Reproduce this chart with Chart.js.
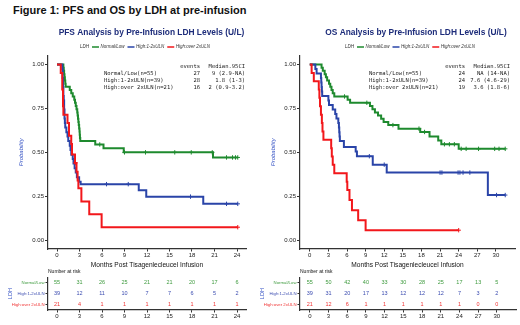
<!DOCTYPE html>
<html>
<head>
<meta charset="utf-8">
<script src="https://cdn.jsdelivr.net/npm/chart.js@4"></script>
<style>
html, body { margin: 0; padding: 0; background: #fff; }
body { width: 520px; height: 325px; position: relative; overflow: hidden; font-family: "Liberation Sans", Arial, sans-serif; }
#figTitle { position: absolute; left: 13px; top: 4px; font-size: 11px; font-weight: bold; color: #111; white-space: nowrap; }
.box { position: absolute; }
</style>
</head>
<body>
<div id="figTitle">Figure 1: PFS and OS by LDH at pre-infusion</div>
<div class="box" style="left:0;top:20px"><canvas id="pfsKm" width="256" height="250"></canvas></div>
<div class="box" style="left:252px;top:20px"><canvas id="osKm" width="268" height="250"></canvas></div>
<div class="box" style="left:0;top:266px"><canvas id="pfsRisk" width="256" height="59"></canvas></div>
<div class="box" style="left:252px;top:266px"><canvas id="osRisk" width="268" height="59"></canvas></div>
<script>
const FONT = '"Liberation Sans", Arial, sans-serif';
const MONO = '"DejaVu Sans Mono", "Liberation Mono", monospace';

const groups = ['Normal/Low', 'High:1-2xULN', 'High:over 2xULN'];
const lineColors = ['#1e8a2e', '#2a44a8', '#f2171b'];
const riskTextColors = ['#3f9b3f', '#3b4cb0', '#f03333'];
const axisBlue = '#3653c4';

const pfsTimes = [0, 3, 6, 9, 12, 15, 18, 21, 24];
const osTimes = [0, 3, 6, 9, 12, 15, 18, 21, 24, 27, 30];
const probTicks = [0, 0.25, 0.5, 0.75, 1];

// PFS curves (time in months, survival probability)
const pfsNormalT = [0, 0.85, 0.9, 0.95, 1.0, 1.05, 1.1, 1.15, 1.7, 1.9, 2.1, 2.3, 2.4, 2.5, 2.6, 2.7, 2.75, 2.8, 2.85, 2.9, 2.95, 3.0, 3.03, 3.06, 3.1, 5.1, 6.2, 8.9, 20.8, 24.1];
const pfsNormalS = [1, 0.982, 0.964, 0.945, 0.927, 0.909, 0.891, 0.873, 0.855, 0.836, 0.818, 0.8, 0.782, 0.764, 0.745, 0.727, 0.709, 0.691, 0.673, 0.655, 0.636, 0.618, 0.6, 0.582, 0.564, 0.545, 0.523, 0.5, 0.471, 0.471];
const pfsNormalCensT = [5.7, 9.0, 11.8, 15.7, 17.9, 20.7, 22.6, 23.4, 23.8, 24.1];
const pfsNormalCensS = [0.545, 0.5, 0.5, 0.5, 0.5, 0.5, 0.471, 0.471, 0.471, 0.471];

const pfsMidT = [0, 0.7, 0.75, 0.8, 0.85, 0.9, 0.95, 1.0, 1.05, 1.1, 1.25, 1.4, 1.5, 1.7, 1.8, 1.9, 2.1, 2.2, 2.35, 2.5, 2.65, 2.95, 3.15, 10.9, 11.9, 19.5, 24.1];
const pfsMidS = [1, 0.974, 0.923, 0.872, 0.821, 0.795, 0.744, 0.692, 0.667, 0.641, 0.615, 0.59, 0.564, 0.538, 0.513, 0.487, 0.462, 0.436, 0.41, 0.385, 0.359, 0.333, 0.319, 0.285, 0.248, 0.207, 0.207];
const pfsMidCensT = [6.6, 9.5, 17.8, 22.6, 24.1];
const pfsMidCensS = [0.319, 0.319, 0.248, 0.207, 0.207];

const pfsHighT = [0, 0.5, 0.7, 0.8, 0.85, 1.4, 1.6, 1.9, 2.0, 2.4, 2.6, 2.75, 2.85, 3.25, 4.3, 5.95, 24.1];
const pfsHighS = [1, 0.952, 0.857, 0.762, 0.714, 0.667, 0.595, 0.548, 0.488, 0.44, 0.39, 0.34, 0.295, 0.22, 0.148, 0.074, 0.074];
const pfsHighCensT = [2.45, 24.1];
const pfsHighCensS = [0.44, 0.074];

// OS curves
const osNormalT = [0, 1.9, 2.1, 2.4, 2.6, 2.8, 3.1, 3.3, 3.5, 3.7, 3.95, 6.1, 6.5, 9.7, 10.1, 10.5, 11.0, 11.5, 11.9, 12.65, 14.3, 17.8, 19.3, 20.7, 21.2, 24.0, 31.5];
const osNormalS = [1, 0.982, 0.964, 0.945, 0.927, 0.909, 0.891, 0.873, 0.855, 0.836, 0.818, 0.8, 0.782, 0.764, 0.745, 0.727, 0.709, 0.691, 0.673, 0.655, 0.635, 0.616, 0.59, 0.568, 0.546, 0.52, 0.52];
const osNormalCensT = [5.6, 9.2, 13.4, 17.6, 18.5, 21.7, 22.5, 23.3, 24.4, 25.2, 27.2, 29.8, 30.5, 31.5];
const osNormalCensS = [0.818, 0.782, 0.655, 0.635, 0.616, 0.546, 0.546, 0.546, 0.52, 0.52, 0.52, 0.52, 0.52, 0.52];

const osMidT = [0, 0.9, 1.1, 1.8, 1.85, 1.9, 1.95, 2.0, 3.0, 3.1, 3.7, 4.1, 4.3, 4.6, 4.7, 4.75, 4.8, 4.85, 5.5, 7.4, 7.6, 10.15, 12.4, 28.7, 31.5];
const osMidS = [1, 0.974, 0.949, 0.923, 0.897, 0.872, 0.846, 0.821, 0.795, 0.769, 0.744, 0.718, 0.692, 0.667, 0.641, 0.615, 0.59, 0.564, 0.53, 0.505, 0.478, 0.43, 0.385, 0.257, 0.257];
const osMidCensT = [9.6, 12.0, 21.0, 21.3, 23.9, 24.2, 24.7, 25.8, 30.1, 31.5];
const osMidCensS = [0.478, 0.43, 0.385, 0.385, 0.385, 0.385, 0.385, 0.385, 0.257, 0.257];

const osHighT = [0, 0.3, 0.65, 1.45, 1.55, 1.65, 1.8, 1.95, 2.05, 2.2, 3.45, 3.55, 3.7, 3.95, 5.95, 6.05, 6.4, 6.8, 7.8, 9.0, 24.0];
const osHighS = [1, 0.952, 0.905, 0.857, 0.81, 0.762, 0.714, 0.667, 0.619, 0.571, 0.524, 0.476, 0.429, 0.381, 0.333, 0.286, 0.229, 0.171, 0.114, 0.057, 0.057];
const osHighCensT = [24.0];
const osHighCensS = [0.057];

// numbers at risk
const pfsRiskNormal = [55, 31, 26, 25, 21, 21, 20, 17, 6];
const pfsRiskMid = [39, 12, 11, 10, 7, 7, 6, 5, 2];
const pfsRiskHigh = [21, 4, 1, 1, 1, 1, 1, 1, 1];
const osRiskNormal = [55, 50, 42, 40, 33, 30, 28, 25, 17, 13, 5];
const osRiskMid = [39, 31, 20, 17, 13, 12, 12, 12, 7, 3, 2];
const osRiskHigh = [21, 12, 6, 1, 1, 1, 1, 1, 1, 0, 0];

// summary table
const tableLabels = ['Normal/Low(n=55)', 'High:1-2xULN(n=39)', 'High:over 2xULN(n=21)'];
const pfsEvents = [27, 28, 16];
const pfsMedians = ['9 (2.9-NA)', '1.8 (1-3)', '2 (0.9-3.2)'];
const osEvents = [24, 24, 19];
const osMedians = ['NA (14-NA)', '7.6 (4.6-29)', '3.6 (1.8-6)'];

function pts(t, s) {
    return t.map((v, i) => ({ x: v, y: s[i] }));
}

function kmDatasets(curves) {
    const sets = [];
    curves.forEach((c, i) => {
        sets.push({
            data: pts(c.t, c.s),
            borderColor: lineColors[i],
            borderWidth: 2,
            stepped: 'before',
            pointRadius: 0,
            fill: false,
            order: 10 - i
        });
        sets.push({
            data: pts(c.ct, c.cs),
            showLine: false,
            pointStyle: 'cross',
            pointRadius: 2.2,
            pointBorderWidth: 1,
            pointBorderColor: lineColors[i],
            borderColor: lineColors[i],
            order: 10 - i
        });
    });
    return sets;
}

function xScale(ticks, max, height, tickLen, withTitle) {
    return {
        type: 'linear',
        min: -max * 0.05,
        max: max * 1.05,
        afterBuildTicks: s => { s.ticks = ticks.map(v => ({ value: v })); },
        afterFit: s => { s.height = height; },
        grid: { display: true, drawOnChartArea: false, drawTicks: true, tickLength: tickLen, color: '#333', lineWidth: 1 },
        border: { display: true, color: '#333', width: 1.2 },
        ticks: { color: '#222', font: { size: 6, family: FONT }, padding: 0, maxRotation: 0, autoSkip: false, callback: v => v },
        title: {
            display: withTitle,
            text: 'Months Post Tisagenlecleucel Infusion',
            color: '#111',
            font: { size: 6.6, family: FONT },
            padding: { top: 0, bottom: 1 }
        }
    };
}

function kmDecor(title, titleX, legendX, tableDx, events, medians) {
    return {
        id: 'kmDecor',
        afterDraw(chart) {
            const ctx = chart.ctx;
            const a = chart.chartArea;
            ctx.save();
            // panel title
            ctx.font = 'bold 8.4px ' + FONT;
            ctx.fillStyle = '#1d2c7a';
            ctx.textAlign = 'center';
            ctx.textBaseline = 'middle';
            ctx.fillText(title, titleX, 13);

            // legend
            ctx.font = 'italic 4.5px ' + FONT;
            const gap = 3, seg = 7;
            let total = ctx.measureText('LDH').width + gap;
            groups.forEach(g => { total += seg + 1.5 + ctx.measureText(g).width + gap; });
            total -= gap;
            let cx = legendX - total / 2;
            const ly = 27;
            ctx.textAlign = 'left';
            ctx.fillStyle = '#333';
            ctx.fillText('LDH', cx, ly);
            cx += ctx.measureText('LDH').width + gap;
            groups.forEach((g, i) => {
                ctx.strokeStyle = lineColors[i];
                ctx.lineWidth = 1.5;
                ctx.beginPath();
                ctx.moveTo(cx, ly);
                ctx.lineTo(cx + seg, ly);
                ctx.stroke();
                cx += seg + 1.5;
                ctx.fillStyle = '#333';
                ctx.fillText(g, cx, ly);
                cx += ctx.measureText(g).width + gap;
            });

            // summary table
            ctx.font = '5.5px ' + MONO;
            ctx.fillStyle = '#222';
            const lx = a.left + tableDx, ex = lx + 96, mx = lx + 141;
            ctx.textAlign = 'right';
            ctx.fillText('events', ex, 46.5);
            ctx.fillText('Median.95CI', mx, 46.5);
            tableLabels.forEach((lab, i) => {
                const y = 53.8 + i * 6.9;
                ctx.textAlign = 'left';
                ctx.fillText(lab, lx, y);
                ctx.textAlign = 'right';
                ctx.fillText(String(events[i]), ex, y);
                ctx.fillText(medians[i], mx, y);
            });
            ctx.restore();
        }
    };
}

function kmChart(id, curves, ticks, max, padRight, decor) {
    return new Chart(document.getElementById(id), {
        type: 'line',
        data: { datasets: kmDatasets(curves) },
        options: {
            responsive: false,
            animation: false,
            layout: { padding: { top: 35.7, right: padRight, left: 0, bottom: 0 } },
            plugins: { legend: { display: false }, tooltip: { enabled: false } },
            scales: {
                x: xScale(ticks, max, 21, 2.5, true),
                y: {
                    type: 'linear',
                    min: -0.05,
                    max: 1.05,
                    afterBuildTicks: s => { s.ticks = probTicks.map(v => ({ value: v })); },
                    afterFit: s => { s.width = 48; },
                    grid: { display: true, drawOnChartArea: false, drawTicks: true, tickLength: 3, color: '#333', lineWidth: 1 },
                    border: { display: true, color: '#333', width: 1.2 },
                    ticks: { color: '#222', font: { size: 6, family: FONT }, padding: 1, autoSkip: false, callback: v => v.toFixed(2) },
                    title: {
                        display: true,
                        text: 'Probability',
                        color: axisBlue,
                        font: { size: 6, family: FONT, style: 'italic' },
                        padding: { top: 18, bottom: 0 }
                    }
                }
            }
        },
        plugins: [decor]
    });
}

const riskText = {
    id: 'riskText',
    afterDatasetsDraw(chart) {
        const ctx = chart.ctx;
        ctx.save();
        ctx.font = '5.5px ' + FONT;
        ctx.textAlign = 'center';
        ctx.textBaseline = 'middle';
        chart.data.datasets.forEach((ds, i) => {
            ctx.fillStyle = riskTextColors[i];
            chart.getDatasetMeta(i).data.forEach((el, j) => {
                ctx.fillText(String(ds.counts[j]), el.x, el.y);
            });
        });
        ctx.font = '5px ' + FONT;
        ctx.fillStyle = '#111';
        ctx.textAlign = 'left';
        ctx.fillText('Number at risk', chart.chartArea.left, chart.chartArea.top - 5.5);
        ctx.restore();
    }
};

function riskChart(id, times, rows, max, padRight) {
    return new Chart(document.getElementById(id), {
        type: 'scatter',
        data: {
            datasets: rows.map((r, i) => ({
                data: times.map(t => ({ x: t, y: i + 1 })),
                counts: r,
                pointRadius: 0
            }))
        },
        options: {
            responsive: false,
            animation: false,
            layout: { padding: { top: 11.3, right: padRight, left: 0, bottom: 0 } },
            plugins: { legend: { display: false }, tooltip: { enabled: false } },
            scales: {
                x: xScale(times, max, 15, 2.5, false),
                y: {
                    type: 'linear',
                    min: 0.5,
                    max: 3.5,
                    reverse: true,
                    afterBuildTicks: s => { s.ticks = [1, 2, 3].map(v => ({ value: v })); },
                    afterFit: s => { s.width = 48; },
                    grid: { display: true, drawOnChartArea: false, drawTicks: true, tickLength: 2.5, color: '#333', lineWidth: 1 },
                    border: { display: true, color: '#333', width: 1.2 },
                    ticks: {
                        color: c => riskTextColors[c.index],
                        font: { size: 4.3, family: FONT },
                        padding: 1,
                        autoSkip: false,
                        callback: v => groups[v - 1]
                    },
                    title: {
                        display: true,
                        text: 'LDH',
                        color: axisBlue,
                        font: { size: 5.5, family: FONT },
                        padding: { top: 6.7, bottom: 0 }
                    }
                }
            }
        },
        plugins: [riskText]
    });
}

kmChart('pfsKm', [
    { t: pfsNormalT, s: pfsNormalS, ct: pfsNormalCensT, cs: pfsNormalCensS },
    { t: pfsMidT, s: pfsMidS, ct: pfsMidCensT, cs: pfsMidCensS },
    { t: pfsHighT, s: pfsHighS, ct: pfsHighCensT, cs: pfsHighCensS }
], pfsTimes, 24, 10, kmDecor('PFS Analysis by Pre-Infusion LDH Levels (U/L)', 151.5, 145, 56, pfsEvents, pfsMedians));

kmChart('osKm', [
    { t: osNormalT, s: osNormalS, ct: osNormalCensT, cs: osNormalCensS },
    { t: osMidT, s: osMidS, ct: osMidCensT, cs: osMidCensS },
    { t: osHighT, s: osHighS, ct: osHighCensT, cs: osHighCensS }
], osTimes, 31.5, 4, kmDecor('OS Analysis by Pre-Infusion LDH Levels (U/L)', 164, 158, 69, osEvents, osMedians));

riskChart('pfsRisk', pfsTimes, [pfsRiskNormal, pfsRiskMid, pfsRiskHigh], 24, 10);
riskChart('osRisk', osTimes, [osRiskNormal, osRiskMid, osRiskHigh], 31.5, 4);
</script>
</body>
</html>
